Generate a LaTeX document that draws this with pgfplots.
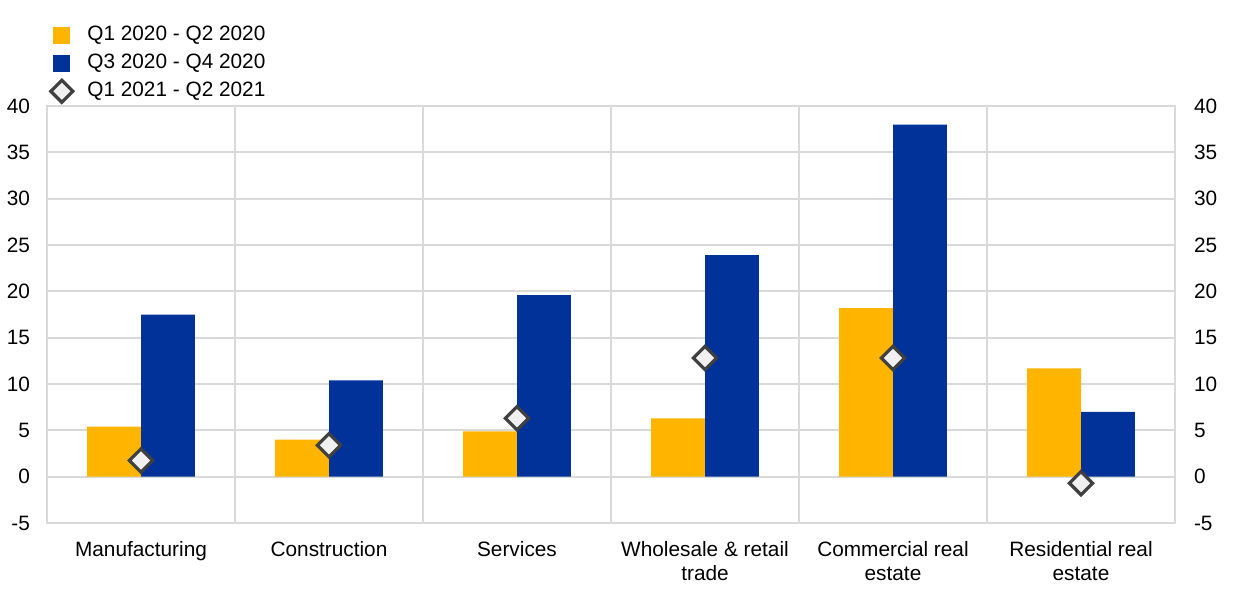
\documentclass[border=0pt]{standalone}
\usepackage{pgfplots}
\pgfplotsset{compat=1.18}
\usepackage{fontspec}
\setmainfont{Liberation Sans}
\definecolor{ecbyellow}{HTML}{FFB400}
\definecolor{ecbblue}{HTML}{003299}
\definecolor{gridgray}{HTML}{D9D9D9}
\definecolor{mkgray}{HTML}{404040}
\definecolor{mkfill}{HTML}{F0F0F0}
\begin{document}
\begin{tikzpicture}[font=\fontsize{10.4}{12}\selectfont]
\path[use as bounding box] (-23.5pt,-34pt) rectangle (596.5pt,261.5pt);
\begin{axis}[
  at={(0,0)}, anchor=south west,
  width=564pt, height=208.5pt, scale only axis,
  xmin=-0.5, xmax=5.5, ymin=-5, ymax=40,
  ytick={-5,0,...,40},
  xtick={0,1,2,3,4,5},
  xticklabels={Manufacturing,Construction,Services,{Wholesale \& retail\\trade},{Commercial real\\estate},{Residential real\\estate}},
  minor xtick={0.5,1.5,2.5,3.5,4.5},
  xminorgrids=true, ymajorgrids=true,
  grid style={gridgray, line width=1pt},
  minor grid style={gridgray, line width=1pt},
  axis line style={gridgray, line width=1pt},
  major tick length=0pt, minor tick length=0pt,
  /pgf/number format/assume math mode=true,
  yticklabel style={xshift=-5pt},
  xticklabel style={align=center, anchor=north, yshift=-5.5pt, font=\fontsize{10.4}{12}\selectfont},
  ybar=0pt, bar width=0.287,
  legend style={at={(0.003,1.197)}, anchor=north west, draw=none, fill=none,
    inner sep=0pt, row sep=3pt, cells={anchor=west},
    nodes={inner sep=1pt, text height=7pt, text depth=2pt}},
  legend cell align=left,
]
\addplot[fill=ecbyellow, draw=none,
  legend image code/.code={\path[draw=none,fill=none] (-1.2pt,0pt) -- (16pt,0pt); \fill[ecbyellow] (0pt,-4.25pt) rectangle (8.5pt,4.25pt);}]
  coordinates {(0,5.4) (1,4.0) (2,4.9) (3,6.3) (4,18.2) (5,11.7)};
\addlegendentry{Q1 2020 - Q2 2020}
\addplot[fill=ecbblue, draw=none,
  legend image code/.code={\path[draw=none,fill=none] (-1.2pt,0pt) -- (16pt,0pt); \fill[ecbblue] (0pt,-4.25pt) rectangle (8.5pt,4.25pt);}]
  coordinates {(0,17.5) (1,10.4) (2,19.6) (3,23.9) (4,38.0) (5,7.0)};
\addlegendentry{Q3 2020 - Q4 2020}
\addplot[only marks, mark=square*, mark size=4.1pt,
  mark options={rotate=45, draw=mkgray, fill=mkfill, line width=1.6pt},
  bar shift=0pt,
  legend image code/.code={\path[draw=none,fill=none] (-1.2pt,0pt) -- (16pt,0pt); \path[draw=none, mark=square*, mark size=3.9pt, mark options={rotate=45, draw=mkgray, fill=mkfill, line width=1.6pt}] plot coordinates {(4.25pt,0pt)};}]
  coordinates {(0,1.75) (1,3.4) (2,6.3) (3,12.8) (4,12.8) (5,-0.7)};
\addlegendentry{Q1 2021 - Q2 2021}
\end{axis}
\begin{axis}[
  at={(0,0)}, anchor=south west,
  width=564pt, height=208.5pt, scale only axis,
  xmin=-0.5, xmax=5.5, ymin=-5, ymax=40,
  ytick={-5,0,...,40},
  xtick=\empty,
  axis y line*=right,
  axis x line=none,
  axis line style={draw=none},
  major tick length=0pt,
  /pgf/number format/assume math mode=true,
  yticklabel style={xshift=6pt, anchor=west},
]
\addplot[draw=none, forget plot] coordinates {(0,0)};
\end{axis}
\end{tikzpicture}
\end{document}
